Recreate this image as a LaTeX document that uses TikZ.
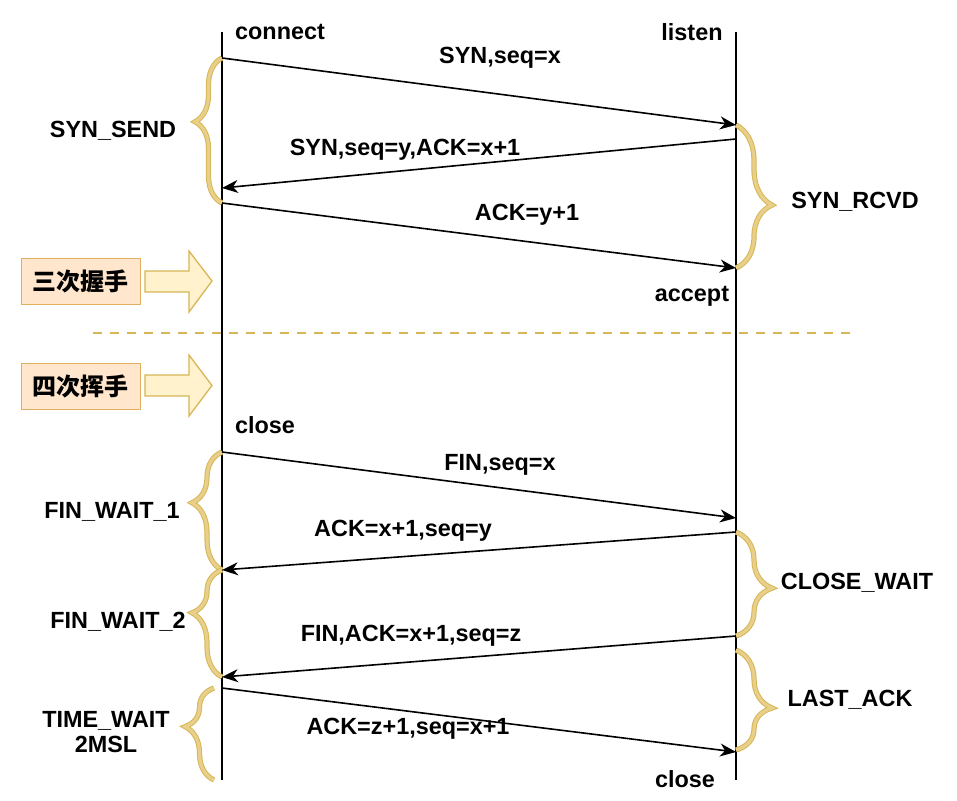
\documentclass[tikz,border=0pt]{standalone}
\usepackage{fontspec}
\setmainfont{Liberation Sans}
\newfontfamily\cjk{Noto Sans CJK SC}
\usetikzlibrary{arrows.meta,decorations.pathreplacing}
\definecolor{gold}{HTML}{D6B656}
\definecolor{boxfill}{HTML}{FFE6CC}
\definecolor{boxdraw}{HTML}{E0B060}
\definecolor{arrfill}{HTML}{FFF2CC}
\definecolor{hatch}{HTML}{E8CF8A}
\begin{document}
\begin{tikzpicture}[x=1pt,y=-1pt,
  lbl/.style={font=\fontsize{23.4}{27}\selectfont\bfseries, inner sep=0pt},
  life/.style={line width=2.8pt},
  msg/.style={line width=1.6pt, -{Stealth[length=16pt,width=13pt,inset=5pt]}},
  brc/.style={draw=gold, line width=1pt, double=hatch, double distance=3.2pt, decorate},
  tagbox/.style={draw=boxdraw, fill=boxfill, line width=1pt, minimum width=119pt, minimum height=46pt, inner sep=0pt, font=\cjk\fontsize{24}{28}\selectfont\bfseries},
  bigarrow/.style={draw=gold, fill=arrfill, line width=1.3pt, line join=miter}
]
\useasboundingbox (0,0) rectangle (957,800);

% lifelines
\coordinate (LT) at (222,32);
\coordinate (LB) at (222,780);
\coordinate (RT) at (736,32);
\coordinate (RB) at (736,780);
\draw[life] (LT) -- (LB);
\draw[life] (RT) -- (RB);

% braces left
\draw[brc, decoration={brace, amplitude=27pt, aspect=0.56}] (222,203) -- (222,58);
\draw[brc, decoration={brace, amplitude=30pt, aspect=0.57}] (222,570) -- (222,452);
\draw[brc, decoration={brace, amplitude=30pt, aspect=0.6}] (222,677) -- (222,570);
\draw[brc, decoration={brace, amplitude=29pt, aspect=0.58}] (214,780) -- (214,688);
% braces right
\draw[brc, decoration={brace, amplitude=36pt, aspect=0.56}] (736,125) -- (736,268);
\draw[brc, decoration={brace, amplitude=36pt, aspect=0.54}] (736,532) -- (736,636);
\draw[brc, decoration={brace, amplitude=36pt, aspect=0.58}] (736,650) -- (736,750);

% message endpoints
\coordinate (a1) at (222,58);  \coordinate (b1) at (736,125);
\coordinate (b2) at (736,139); \coordinate (a2) at (222,188);
\coordinate (a3) at (222,203); \coordinate (b3) at (736,268);
\coordinate (a4) at (222,452); \coordinate (b4) at (736,518);
\coordinate (b5) at (736,532); \coordinate (a5) at (222,570);
\coordinate (b6) at (736,636); \coordinate (a6) at (222,677);
\coordinate (a7) at (222,688); \coordinate (b7) at (736,752);

\draw[msg] (a1) -- (b1);
\draw[msg] (b2) -- (a2);
\draw[msg] (a3) -- (b3);
\draw[msg] (a4) -- (b4);
\draw[msg] (b5) -- (a5);
\draw[msg] (b6) -- (a6);
\draw[msg] (a7) -- (b7);

% message labels
\node[lbl] (m1) at (500,58) {SYN,seq=x};
\node[lbl] (m2) at (405,150) {SYN,seq=y,ACK=x+1};
\node[lbl] (m3) at (527,215) {ACK=y+1};
\node[lbl] (m4) at (500,465) {FIN,seq=x};
\node[lbl] (m5) at (403,531) {ACK=x+1,seq=y};
\node[lbl] (m6) at (411,636) {FIN,ACK=x+1,seq=z};
\node[lbl] (m7) at (408,729) {ACK=z+1,seq=x+1};

% lifeline labels
\node[lbl] (connect) at (280,32) {connect};
\node[lbl] (listen) at (692,32) {listen};
\node[lbl] (accept) at (692,296) {accept};
\node[lbl] (close1) at (265,425) {close};
\node[lbl] (close2) at (685,779) {close};

% state labels
\node[lbl] (s1) at (113,131) {SYN\_SEND};
\node[lbl] (s2) at (855,202) {SYN\_RCVD};
\node[lbl] (s3) at (112,512) {FIN\_WAIT\_1};
\node[lbl] (s4) at (118,622) {FIN\_WAIT\_2};
\node[lbl, align=center] (s5) at (106,732) {TIME\_WAIT\\[-2pt]2MSL};
\node[lbl] (s6) at (857,583) {CLOSE\_WAIT};
\node[lbl] (s7) at (850,700) {LAST\_ACK};

% separator
\coordinate (d1) at (93,333);
\coordinate (d2) at (857,333);
\draw[gold, line width=1.8pt, dash pattern=on 9pt off 8pt] (d1) -- (d2);

% tags
\node[tagbox] (t1) at (80.5,281) {三次握手};
\node[tagbox] (t2) at (80.5,386.5) {四次挥手};
\draw[bigarrow] (145,271) -- (189,271) -- (189,251) -- (212,281) -- (189,312) -- (189,292) -- (145,292) -- cycle;
\draw[bigarrow] (145,375) -- (189,375) -- (189,355) -- (212,385.5) -- (189,416) -- (189,396) -- (145,396) -- cycle;
\end{tikzpicture}
\end{document}
